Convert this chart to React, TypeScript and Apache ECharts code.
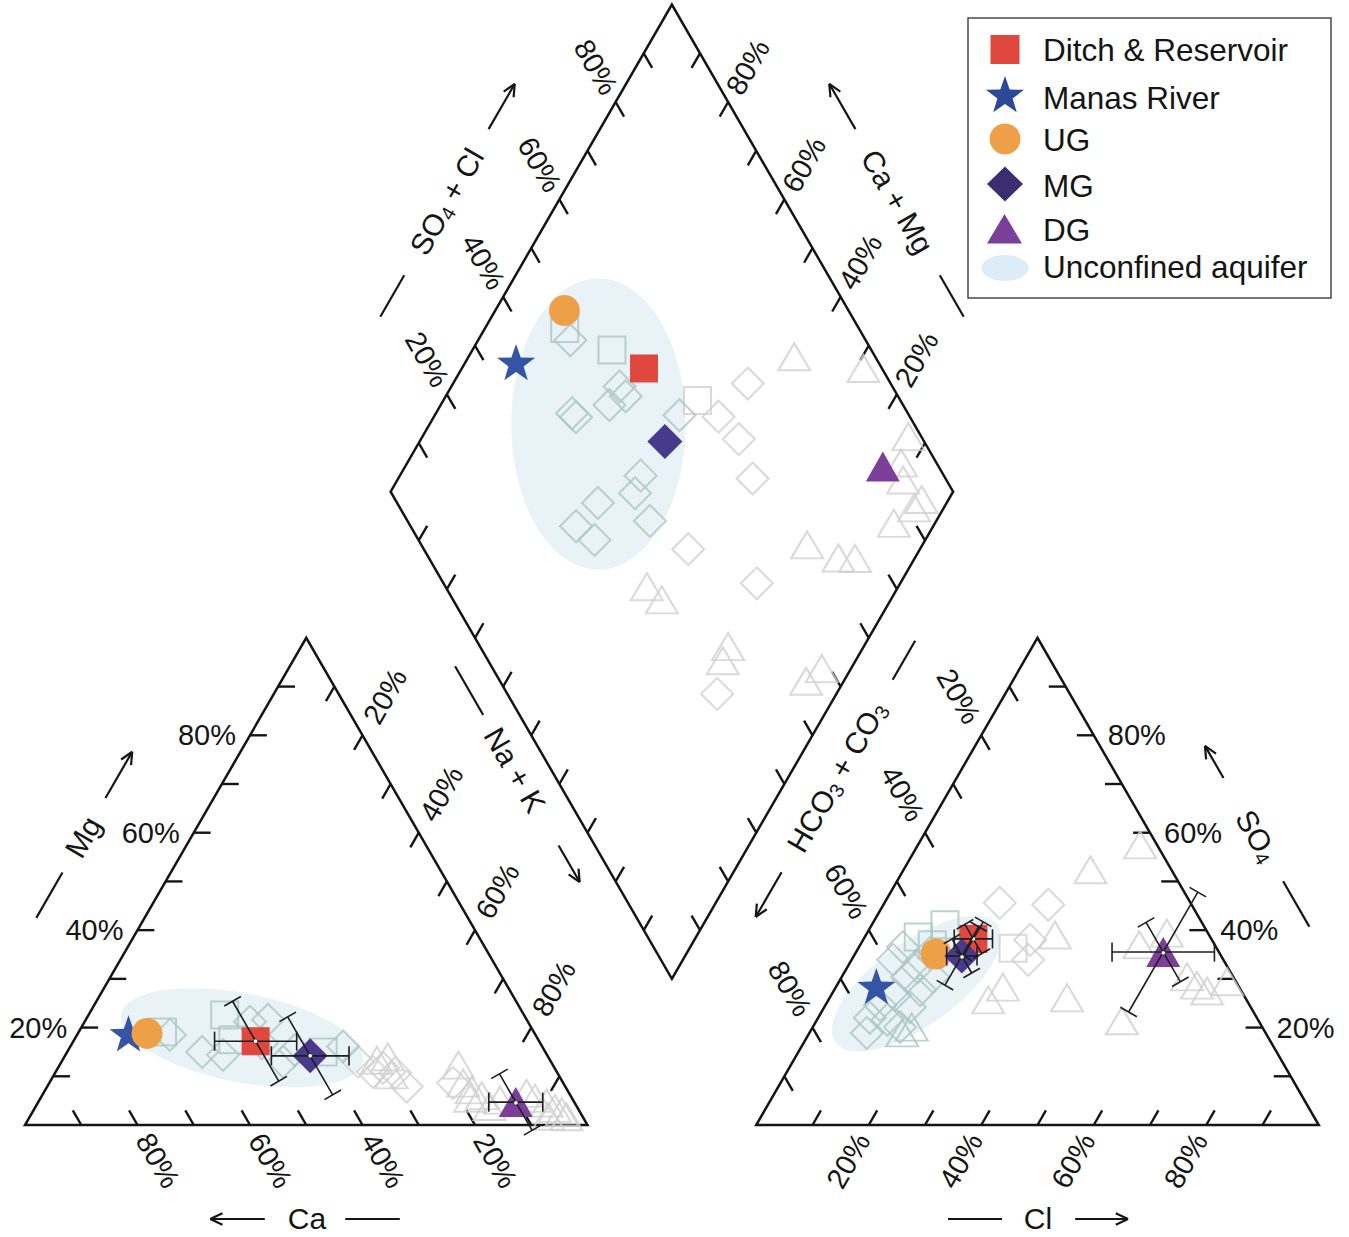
import { useEffect, useRef } from "react";
import * as echarts from "echarts";

// ---------------- values (percent) ----------------
// Group means. Cation triangle: [Ca %, Mg %] (Na+K = 100 - Ca - Mg)
const GROUP_NAMES = ["Manas River", "UG", "Ditch & Reservoir", "MG", "DG"];
const CATION_MEANS = [[72.2, 18.8], [68.9, 18.8], [50.4, 17.2], [42.2, 14.2], [10.4, 4.7]];
// Anion triangle: [Cl %, SO4 %] (HCO3+CO3 = 100 - Cl - SO4)
const ANION_MEANS = [[7.1, 28.5], [14.4, 35.1], [19.5, 38.2], [19.2, 34.7], [54.6, 35.5]];
// Error bars (percent): cation horizontal / falling; anion horizontal / rising / falling
const CATION_ERR_H = [0, 0, 7.3, 6.9, 4.8];
const CATION_ERR_F = [0, 0, 8.2, 8.0, 5.8];
const ANION_ERR_H = [0, 0, 3.4, 2.7, 9.1];
const ANION_ERR_R = [0, 0, 3.5, 6.0, 12.3];
const ANION_ERR_F = [0, 0, 3.0, 3.5, 6.1];

// Individual samples, cation triangle [Ca, Mg]
const CATION_SQ_TEAL = [[66, 19.1], [53.2, 22.6], [54.3, 17.5], [39.5, 15]];
const CATION_DIA_TEAL = [[65, 18.5], [61, 15], [57.6, 14.4], [49.4, 21.2], [46, 21.6], [49.5, 16.8], [47.6, 13], [44.3, 15.4], [35.4, 16.1]];
const CATION_DIA_GRAY = [[34.3, 13], [32.7, 10.9], [30.5, 11.7], [28.8, 10.7], [28.2, 7.9], [19.6, 8.6]];
const CATION_TRI_GRAY = [[30.8, 13.3], [28.5, 14], [29.7, 10.3], [16.8, 12.3], [17.8, 8.6], [17, 7.2], [15.8, 6], [18.1, 5.5], [7.6, 6.5], [6.6, 5.5], [5, 4.5], [4.1, 3.4], [3.2, 2.7], [2.9, 1.7], [15.5, 3.8], [13, 5.1], [6.1, 1.8]];
// Anion triangle [Cl, SO4]
const ANION_SQ_TEAL = [[9.5, 38.6], [13, 41.1], [12.8, 37]];
const ANION_SQ_GRAY = [[27.5, 36.3]];
const ANION_DIA_TEAL = [[7.8, 36.5], [7.4, 33.9], [12.5, 32.4], [13.2, 35.3], [11.6, 30.4], [9.2, 22], [10.2, 18.9], [12.5, 21.6], [15.5, 20.1], [15.2, 24.2], [15.3, 27.7], [16.2, 30.4], [9.7, 24.6], [11.3, 26.7]];
const ANION_TRI_TEAL = [[16.5, 18.9], [17.6, 20.1]];
const ANION_DIA_GRAY = [[20.5, 45.6], [29.3, 45.2], [29.7, 38], [31.4, 33.9]];
const ANION_TRI_GRAY = [[39.5, 57.5], [33.2, 52.4], [33.6, 39], [29.7, 28.3], [28.4, 25.7], [42.2, 26.1], [54.3, 21.4], [49.6, 37], [53.3, 39.4], [61.4, 30.4], [64, 28.7], [66.4, 27.5], [69, 29.4]];
// Diamond [Na+K, SO4+Cl]
const DIAMOND_SQ_TEAL = [[14.2, 47.7], [24.8, 53.9]];
const DIAMOND_SQ_GRAY = [[45.2, 63.9]];
const DIAMOND_DIA_TEAL = [[16.4, 47.5], [29.9, 51.5], [32, 51.6], [30, 47.8], [24.2, 40.3], [25.3, 40.6], [43.5, 59.2], [42.8, 46.1], [43.6, 43.3], [38, 35.7], [36.5, 29.4], [41.2, 31.3], [49.1, 43.1]];
const DIAMOND_DIA_GRAY = [[52.4, 74.6], [50.6, 66], [56.5, 67.3], [63, 65.7], [58.8, 47], [74.5, 55.7], [78.8, 37.3]];
const DIAMOND_TRI_GRAY = [[57.9, 85.6], [71.4, 96.7], [86.4, 97.7], [87.8, 93.7], [89.9, 92.3], [95.2, 93.6], [94.7, 91.4], [92.7, 86.2], [79.5, 68.6], [86.4, 72.8], [89.4, 75.7], [55.3, 35.8], [59.3, 37.1], [75.9, 44.1], [76.4, 41.7], [94.8, 58.5], [93.3, 54.4]];

const TICKS = [10, 20, 30, 40, 50, 60, 70, 80, 90];
const LABEL_TICKS = [20, 40, 60, 80];

// ---------------- styles ----------------
const GROUP_COLORS = ["#3654a6", "#eea048", "#e0473f", "#47398c", "#7c3f99"];
const STAR_PATH = "path://M0,-50L11.76,-16.18L47.55,-15.45L19.02,6.18L29.39,40.45L0,20L-29.39,40.45L-19.02,6.18L-47.55,-15.45L-11.76,-16.18Z";
const GROUP_SYMBOLS = [STAR_PATH, "circle", "rect", "diamond", "triangle"];
const GROUP_SIZES: any[] = [38, 31, 28, 35, [34, 30]];
const TEAL = "#aac7c3";
const GRAY = "#cfcfcf";
const ELLIPSE_FILL = "#e9f2f6";
const INK = "#151515";
const FONT = '"Liberation Sans", Arial, Helvetica, sans-serif';

// ---------------- geometry (units: triangle side = 100) ----------------
const HT = Math.sqrt(3) / 2;
const BY = 15 * Math.sqrt(3);
const PX = 5.625; // px per unit
const X0 = 25;
const Y0 = 1125;
const W = 1349;
const H = 1237;
const TICK_LEN = 3;
const HEAD = 2.4;

function cat(ca: number, mg: number): number[] {
  const na = 100 - ca - mg;
  return [na + mg / 2, mg * HT];
}
function ani(cl: number, so4: number): number[] {
  return [130 + cl + so4 / 2, so4 * HT];
}
function dia(nak: number, a: number): number[] {
  const cm = 100 - nak;
  return [115 + (a - cm) / 2, BY + (a + cm) * HT];
}

type Ax = { p: (t: number) => number[]; dir: number[]; lab?: { off: number[]; rot: number; align: string } };
const AXES: Ax[] = [
  { p: (t) => cat(t, 0), dir: [-0.5, HT], lab: { off: [3.65, -6.32], rot: -60, align: "center" } },
  { p: (t) => cat(100 - t, t), dir: [1, 0], lab: { off: [-2.5, 0], rot: 0, align: "right" } },
  { p: (t) => cat(0, 100 - t), dir: [-0.5, -HT], lab: { off: [4, 6.93], rot: 60, align: "center" } },
  { p: (t) => ani(t, 0), dir: [0.5, HT], lab: { off: [-3.65, -6.32], rot: 60, align: "center" } },
  { p: (t) => ani(100 - t, t), dir: [-1, 0], lab: { off: [2.5, 0], rot: 0, align: "left" } },
  { p: (t) => ani(0, 100 - t), dir: [0.5, -HT], lab: { off: [-4, 6.93], rot: -60, align: "center" } },
  { p: (t) => dia(0, t), dir: [0.5, -HT], lab: { off: [-3.5, 6.2], rot: -60, align: "center" } },
  { p: (t) => dia(100 - t, 100), dir: [-0.5, -HT], lab: { off: [3.5, 6.2], rot: 60, align: "center" } },
  { p: (t) => dia(t, 0), dir: [0.5, HT] },
  { p: (t) => dia(100, t), dir: [-0.5, HT] },
];

// Titles: parts, with "_" prefix marking a subscript part
type Title = { parts: string[]; c: number[]; ang: number; side: number; arrow: number[]; line: number[] };
const TITLES: Title[] = [
  { parts: ["Mg"], c: [10.31, 51.2], ang: 60, side: 1, arrow: [8, 17.5], line: [7.3, 16.6] },
  { parts: ["Ca"], c: [50.13, -16.71], ang: 0, side: -1, arrow: [7.5, 17.2], line: [6.8, 16.5] },
  { parts: ["Cl"], c: [180.09, -16.71], ang: 0, side: 1, arrow: [6.6, 16], line: [6.4, 16] },
  { parts: ["SO", "_4"], c: [219.02, 51.38], ang: -60, side: -1, arrow: [11.9, 18.5], line: [9.3, 18.6] },
  { parts: ["Na + K"], c: [87.11, 63.11], ang: -60, side: 1, arrow: [15.5, 23], line: [11.3, 21.3] },
  { parts: ["HCO", "_3", " + CO", "_3"], c: [144.3, 61.92], ang: 60, side: -1, arrow: [19.6, 28.8], line: [19.9, 27.9] },
  { parts: ["SO", "_4", " + Cl"], c: [74.97, 164.14], ang: 60, side: 1, arrow: [14.9, 24.2], line: [15.1, 23.6] },
  { parts: ["Ca + Mg"], c: [155.08, 164.14], ang: -60, side: -1, arrow: [14.9, 24.2], line: [15.1, 23.6] },
];

const ELLIPSES = [
  { c: cat(52.5, 17.9), rx: 21.9, ry: 7.9, ang: -11 },
  { c: ani(14.0, 29.0), rx: 17.8, ry: 7.4, ang: 36 },
  { c: dia(30.0, 43.9), rx: 15.5, ry: 25.9, ang: 0 },
];

const FRAMES = [
  [cat(100, 0), cat(0, 0), cat(0, 100)],
  [ani(0, 0), ani(100, 0), ani(0, 100)],
  [dia(100, 0), dia(100, 100), dia(0, 100), dia(0, 0)],
];

function buildOption() {
  // ticks, title lines, arrows
  const segs: number[][] = [];
  AXES.forEach((ax) =>
    TICKS.forEach((t) => {
      const p = ax.p(t);
      segs.push([p[0], p[1], p[0] + ax.dir[0] * TICK_LEN, p[1] + ax.dir[1] * TICK_LEN, 2.4]);
    })
  );
  TITLES.forEach((tt) => {
    const a = (tt.ang * Math.PI) / 180;
    const d = [Math.cos(a), Math.sin(a)];
    const s = tt.side;
    const pt = (k: number) => [tt.c[0] + d[0] * k, tt.c[1] + d[1] * k];
    const l1 = pt(-s * tt.line[0]);
    const l2 = pt(-s * tt.line[1]);
    segs.push([l1[0], l1[1], l2[0], l2[1], 2.2]);
    const a1 = pt(s * tt.arrow[0]);
    const a2 = pt(s * tt.arrow[1]);
    segs.push([a1[0], a1[1], a2[0], a2[1], 2.2]);
    const back = [-d[0] * s, -d[1] * s];
    [1, -1].forEach((sg) => {
      const r = ((25 * Math.PI) / 180) * sg;
      const bx = back[0] * Math.cos(r) - back[1] * Math.sin(r);
      const by = back[0] * Math.sin(r) + back[1] * Math.cos(r);
      segs.push([a2[0], a2[1], a2[0] + bx * HEAD, a2[1] + by * HEAD, 2.2]);
    });
  });

  // texts
  const texts: { x: number; y: number; text: string; rich: boolean; rot: number; align: string; size: number }[] = [];
  AXES.forEach((ax) => {
    if (!ax.lab) return;
    const lab = ax.lab;
    LABEL_TICKS.forEach((t) => {
      const p = ax.p(t);
      texts.push({ x: p[0] + lab.off[0], y: p[1] + lab.off[1], text: `${t}%`, rich: false, rot: lab.rot, align: lab.align, size: 29 });
    });
  });
  TITLES.forEach((tt) => {
    const hasSub = tt.parts.some((p) => p.startsWith("_"));
    const text = hasSub
      ? tt.parts.map((p) => (p.startsWith("_") ? `{s|${p.slice(1)}}` : `{n|${p}}`)).join("")
      : tt.parts.join("");
    texts.push({ x: tt.c[0], y: tt.c[1], text, rich: hasSub, rot: tt.ang, align: "center", size: 30 });
  });

  // error bars
  const bars: number[][] = [];
  GROUP_NAMES.forEach((_, i) => {
    const c = cat(CATION_MEANS[i][0], CATION_MEANS[i][1]);
    if (CATION_ERR_F[i]) bars.push([c[0], c[1], -60, CATION_ERR_F[i], 0]);
    if (CATION_ERR_H[i]) bars.push([c[0], c[1], 0, CATION_ERR_H[i], 1]);
    const a = ani(ANION_MEANS[i][0], ANION_MEANS[i][1]);
    if (ANION_ERR_R[i]) bars.push([a[0], a[1], 60, ANION_ERR_R[i], 0]);
    if (ANION_ERR_F[i]) bars.push([a[0], a[1], -60, ANION_ERR_F[i], 0]);
    if (ANION_ERR_H[i]) bars.push([a[0], a[1], 0, ANION_ERR_H[i], 1]);
  });

  const hollow = (data: number[][], symbol: string, size: any, color: string) => ({
    type: "scatter",
    data,
    symbol,
    symbolSize: size,
    silent: true,
    z: 3,
    itemStyle: { color: "rgba(0,0,0,0)", borderColor: color, borderWidth: 2 },
  });
  const SQ = 27;
  const DI = 32;
  const TR = [32, 27];
  const mc = (arr: number[][]) => arr.map((p) => cat(p[0], p[1]));
  const ma = (arr: number[][]) => arr.map((p) => ani(p[0], p[1]));
  const md = (arr: number[][]) => arr.map((p) => dia(p[0], p[1]));

  const series: any[] = [
    {
      type: "custom",
      name: "Unconfined aquifer",
      silent: true,
      clip: false,
      z: 1,
      data: ELLIPSES.map((e) => e.c),
      renderItem: (params: any, api: any) => {
        const e = ELLIPSES[params.dataIndex];
        const ca = Math.cos((e.ang * Math.PI) / 180);
        const sa = Math.sin((e.ang * Math.PI) / 180);
        const pts: number[][] = [];
        for (let k = 0; k < 96; k++) {
          const t = (k / 96) * Math.PI * 2;
          const ex = e.rx * Math.cos(t);
          const ey = e.ry * Math.sin(t);
          pts.push(api.coord([e.c[0] + ex * ca - ey * sa, e.c[1] + ex * sa + ey * ca]));
        }
        return { type: "polygon", shape: { points: pts }, style: { fill: ELLIPSE_FILL } };
      },
    },
    {
      type: "custom",
      silent: true,
      clip: false,
      z: 2,
      data: FRAMES.map((f, i) => [i, 0]),
      renderItem: (params: any, api: any) => {
        const f = FRAMES[params.dataIndex];
        return {
          type: "polygon",
          shape: { points: f.map((p) => api.coord(p)) },
          style: { fill: "none", stroke: INK, lineWidth: 2.5, lineJoin: "miter" },
        };
      },
    },
    {
      type: "custom",
      silent: true,
      clip: false,
      z: 2,
      data: segs,
      renderItem: (params: any, api: any) => {
        const p1 = api.coord([api.value(0), api.value(1)]);
        const p2 = api.coord([api.value(2), api.value(3)]);
        return {
          type: "line",
          shape: { x1: p1[0], y1: p1[1], x2: p2[0], y2: p2[1] },
          style: { stroke: INK, lineWidth: api.value(4), lineCap: "butt" },
        };
      },
    },
    hollow(mc(CATION_DIA_GRAY), "diamond", DI, GRAY),
    hollow(mc(CATION_TRI_GRAY), "triangle", TR, GRAY),
    hollow(mc(CATION_SQ_TEAL), "rect", SQ, TEAL),
    hollow(mc(CATION_DIA_TEAL), "diamond", DI, TEAL),
    hollow(ma(ANION_SQ_GRAY), "rect", SQ, GRAY),
    hollow(ma(ANION_DIA_GRAY), "diamond", DI, GRAY),
    hollow(ma(ANION_TRI_GRAY), "triangle", TR, GRAY),
    hollow(ma(ANION_SQ_TEAL), "rect", SQ, TEAL),
    hollow(ma(ANION_DIA_TEAL), "diamond", DI, TEAL),
    hollow(ma(ANION_TRI_TEAL), "triangle", TR, TEAL),
    hollow(md(DIAMOND_SQ_GRAY), "rect", SQ, GRAY),
    hollow(md(DIAMOND_DIA_GRAY), "diamond", DI, GRAY),
    hollow(md(DIAMOND_TRI_GRAY), "triangle", TR, GRAY),
    hollow(md(DIAMOND_SQ_TEAL), "rect", SQ, TEAL),
    hollow(md(DIAMOND_DIA_TEAL), "diamond", DI, TEAL),
  ];

  GROUP_NAMES.forEach((name, i) => {
    const cm = CATION_MEANS[i];
    const am = ANION_MEANS[i];
    const nak = 100 - cm[0] - cm[1];
    const a = am[0] + am[1];
    series.push({
      type: "scatter",
      name,
      silent: true,
      z: 4,
      symbol: GROUP_SYMBOLS[i],
      symbolSize: GROUP_SIZES[i],
      symbolKeepAspect: true,
      itemStyle: { color: GROUP_COLORS[i], opacity: 1 },
      data: [cat(cm[0], cm[1]), ani(am[0], am[1]), dia(nak, a)],
    });
  });

  series.push({
    type: "custom",
    silent: true,
    clip: false,
    z: 5,
    data: bars,
    renderItem: (params: any, api: any) => {
      const x = api.value(0);
      const y = api.value(1);
      const ang = (api.value(2) * Math.PI) / 180;
      const L = api.value(3);
      const dot = api.value(4);
      const dx = Math.cos(ang);
      const dy = Math.sin(ang);
      const nx = -dy;
      const ny = dx;
      const cap = 1.7;
      const st = { stroke: "#1e1e1e", lineWidth: 1.6 };
      const mk = (p: number[], q: number[]) => {
        const a = api.coord(p);
        const b = api.coord(q);
        return { type: "line", shape: { x1: a[0], y1: a[1], x2: b[0], y2: b[1] }, style: st };
      };
      const e1 = [x - dx * L, y - dy * L];
      const e2 = [x + dx * L, y + dy * L];
      const children: any[] = [
        mk(e1, e2),
        mk([e1[0] - nx * cap, e1[1] - ny * cap], [e1[0] + nx * cap, e1[1] + ny * cap]),
        mk([e2[0] - nx * cap, e2[1] - ny * cap], [e2[0] + nx * cap, e2[1] + ny * cap]),
      ];
      if (dot) {
        const c = api.coord([x, y]);
        children.push({ type: "circle", shape: { cx: c[0], cy: c[1], r: 2.2 }, style: { fill: "#fff", stroke: "#1e1e1e", lineWidth: 0.8 } });
      }
      return { type: "group", children };
    },
  });

  series.push({
    type: "custom",
    silent: true,
    clip: false,
    z: 6,
    data: texts.map((t) => [t.x, t.y]),
    renderItem: (params: any, api: any) => {
      const t = texts[params.dataIndex];
      const p = api.coord([t.x, t.y]);
      const style: any = {
        text: t.text,
        fill: INK,
        font: `${t.size}px ${FONT}`,
        align: t.align,
        verticalAlign: "middle",
        textAlign: t.align,
        textVerticalAlign: "middle",
      };
      if (t.rich) {
        style.rich = {
          n: { fontSize: t.size, fontFamily: FONT, lineHeight: 34, fill: INK, color: INK },
          s: { fontSize: 20, fontFamily: FONT, lineHeight: 20, verticalAlign: "bottom", fill: INK, color: INK },
        };
      }
      return {
        type: "text",
        x: p[0],
        y: p[1],
        rotation: (t.rot * Math.PI) / 180,
        style,
      };
    },
  });

  // legend box
  const starPts = (cx: number, cy: number, R: number, r: number) => {
    const pts: number[][] = [];
    for (let k = 0; k < 10; k++) {
      const ang = -Math.PI / 2 + (k * Math.PI) / 5;
      const rad = k % 2 === 0 ? R : r;
      pts.push([cx + rad * Math.cos(ang), cy + rad * Math.sin(ang)]);
    }
    return pts;
  };
  const LEG_ROWS = [
    { name: "Ditch & Reservoir", y: 50 },
    { name: "Manas River", y: 98 },
    { name: "UG", y: 140 },
    { name: "MG", y: 186 },
    { name: "DG", y: 230 },
    { name: "Unconfined aquifer", y: 267 },
  ];
  const graphic: any[] = [
    { type: "rect", z: 100, shape: { x: 968, y: 18, width: 363, height: 280 }, style: { fill: "#fff", stroke: "#4a4a4a", lineWidth: 1.5 } },
    { type: "rect", z: 101, shape: { x: 990.5, y: 35, width: 29, height: 29 }, style: { fill: GROUP_COLORS[2] } },
    { type: "polygon", z: 101, shape: { points: starPts(1005, 96, 20, 8) }, style: { fill: "#2c4896" } },
    { type: "circle", z: 101, shape: { cx: 1005, cy: 139, r: 15.5 }, style: { fill: GROUP_COLORS[1] } },
    { type: "polygon", z: 101, shape: { points: [[1005, 166.5], [1023, 184], [1005, 201.5], [987, 184]] }, style: { fill: "#3a2d70" } },
    { type: "polygon", z: 101, shape: { points: [[1004.5, 214], [1022, 243.5], [987, 243.5]] }, style: { fill: GROUP_COLORS[4] } },
    { type: "ellipse", z: 101, shape: { cx: 1005, cy: 268, rx: 23.5, ry: 13 }, style: { fill: "#dcecf8" } },
  ];
  LEG_ROWS.forEach((r) =>
    graphic.push({
      type: "text",
      z: 101,
      x: 1043,
      y: r.y,
      style: { text: r.name, fill: INK, font: `31.5px ${FONT}`, align: "left", verticalAlign: "middle", textAlign: "left", textVerticalAlign: "middle" },
    })
  );

  return {
    animation: false,
    backgroundColor: "#ffffff",
    grid: { left: 0, right: 0, top: 0, bottom: 0, containLabel: false },
    xAxis: { type: "value", min: -X0 / PX, max: (W - X0) / PX, show: false },
    yAxis: { type: "value", min: -(H - Y0) / PX, max: Y0 / PX, show: false },
    tooltip: { show: false },
    graphic,
    series,
  };
}

export default function App() {
  const ref = useRef<HTMLDivElement>(null);
  useEffect(() => {
    if (!ref.current) return;
    const chart = echarts.init(ref.current, undefined, { renderer: "svg" });
    chart.setOption(buildOption() as any);
    return () => chart.dispose();
  }, []);
  return (
    <div
      ref={ref}
      style={{ position: "absolute", left: 0, top: 0, width: W, height: H, background: "#fff" }}
    />
  );
}
